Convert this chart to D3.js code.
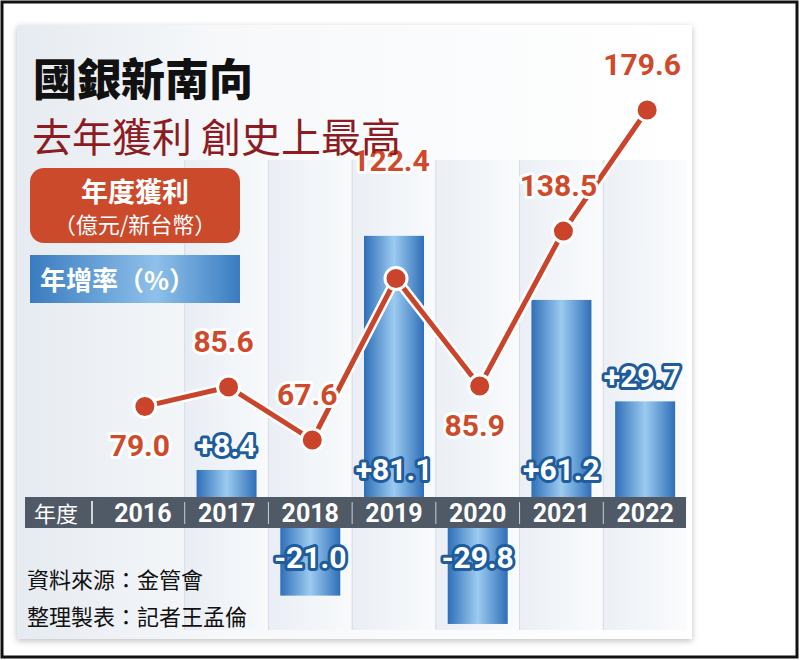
<!DOCTYPE html>
<html><head><meta charset="utf-8">
<script src="https://cdn.jsdelivr.net/npm/d3@7"></script>
<style>body{margin:0;background:#fff}svg{display:block}</style></head>
<body><svg id="c" width="800" height="660"></svg>
<script>
const years=["2016","2017","2018","2019","2020","2021","2022"];
const profit=[79.0,85.6,67.6,122.4,85.9,138.5,179.6];
const growth=[null,8.4,-21.0,81.1,-29.8,61.2,29.7];
const profitLabelPos=["below","above","above","above","below","above","above"];
const profitLabels=["79.0","85.6","67.6","122.4","85.9","138.5","179.6"];
const growthLabels=["","+8.4","-21.0","+81.1","-29.8","+61.2","+29.7"];

const svg=d3.select("#c");
const defs=svg.append("defs");
const bg=defs.append("linearGradient").attr("id","bar").attr("x1",0).attr("x2",1);
bg.append("stop").attr("offset",0).attr("stop-color","#2f6fb8");
bg.append("stop").attr("offset",0.5).attr("stop-color","#9ccbf0");
bg.append("stop").attr("offset",1).attr("stop-color","#2f6fb8");
const pg=defs.append("linearGradient").attr("id","panel").attr("x1",0).attr("x2",1);
pg.append("stop").attr("offset",0).attr("stop-color","#e6ebf1");
pg.append("stop").attr("offset",0.3).attr("stop-color","#f6f8fa");
pg.append("stop").attr("offset",1).attr("stop-color","#ffffff");
const cg=defs.append("linearGradient").attr("id","col").attr("x1",0).attr("x2",1);
cg.append("stop").attr("offset",0).attr("stop-color","#e4eaf2");
cg.append("stop").attr("offset",1).attr("stop-color","#f8fafc");
const lg=defs.append("linearGradient").attr("id","leg").attr("x1",0).attr("x2",1);
lg.append("stop").attr("offset",0).attr("stop-color","#3a7cc0");
lg.append("stop").attr("offset",0.6).attr("stop-color","#8ec0ea");
lg.append("stop").attr("offset",1).attr("stop-color","#3a7cc0");
const sh=defs.append("filter").attr("id","sh").attr("x","-5%").attr("y","-5%").attr("width","110%").attr("height","110%");
sh.append("feDropShadow").attr("dx",0).attr("dy",2).attr("stdDeviation",3).attr("flood-color","#000").attr("flood-opacity",0.25);

svg.append("rect").attr("x",2).attr("y",2).attr("width",795).attr("height",655).attr("fill","#fff").attr("stroke","#111").attr("stroke-width",3);
svg.append("rect").attr("x",17).attr("y",25).attr("width",675).attr("height",614).attr("fill","url(#panel)").attr("filter","url(#sh)");

const x=d3.scaleBand().domain(years).range([101,687]).paddingInner(0);
const bw=60;
const ky=3.22, top0=497, bot0=528;
const gPos=d3.scaleLinear().domain([0,100]).range([top0,top0-100*ky]);
const gNeg=d3.scaleLinear().domain([0,-100]).range([bot0,bot0+100*ky]);
const yP=d3.scaleLinear().domain([67.6,179.6]).range([440,110]);
const cx=d=>x(d)+x.bandwidth()/2;

svg.selectAll(".col").data(years.slice(1)).enter().append("rect")
 .attr("x",d=>x(d)).attr("y",160).attr("width",x.bandwidth()).attr("height",470)
 .attr("fill","url(#col)").attr("opacity",0.7);
svg.selectAll(".sep").data(years.slice(1)).enter().append("line")
 .attr("x1",d=>x(d)).attr("x2",d=>x(d)).attr("y1",160).attr("y2",630).attr("stroke","#d5dbe3");

years.forEach((yr,i)=>{const v=growth[i]; if(v==null)return;
  const y0=v>=0?gPos(v):bot0, h=v>=0?top0-gPos(v):gNeg(v)-bot0;
  svg.append("rect").attr("x",cx(yr)-bw/2).attr("y",y0).attr("width",bw).attr("height",h).attr("fill","url(#bar)");
});

svg.append("rect").attr("x",25).attr("y",top0).attr("width",661).attr("height",bot0-top0).attr("fill","#4f5a66");
svg.append("text").attr("x",34).attr("y",522).text("年度").attr("fill","#fff").attr("font-family","Noto Sans CJK TC").attr("font-size",22);
svg.append("line").attr("x1",92).attr("x2",92).attr("y1",501).attr("y2",524).attr("stroke","#fff").attr("stroke-width",1.5);
svg.selectAll(".yr").data(years).enter().append("text").attr("x",d=>cx(d)).attr("y",522)
 .attr("text-anchor","middle").attr("fill","#fff").attr("font-family","Liberation Sans Narrow, Roboto, sans-serif").attr("font-weight","bold").attr("font-size",25).text(d=>d);
svg.selectAll(".ys").data(years.slice(1)).enter().append("line").attr("x1",d=>x(d)).attr("x2",d=>x(d)).attr("y1",502).attr("y2",524).attr("stroke","#c9ced4");

const pts=years.map((d,i)=>[cx(d)+2,yP(profit[i])]);
svg.append("path").attr("d",d3.line()(pts)).attr("fill","none").attr("stroke","#fff").attr("stroke-width",10).attr("stroke-linejoin","round");
svg.append("path").attr("d",d3.line()(pts)).attr("fill","none").attr("stroke","#c9442a").attr("stroke-width",5).attr("stroke-linejoin","round");
svg.selectAll(".pt").data(pts).enter().append("circle").attr("cx",d=>d[0]).attr("cy",d=>d[1]).attr("r",11).attr("fill","#c9442a").attr("stroke","#fff").attr("stroke-width",3);

const numFont="Liberation Sans Narrow, Roboto, sans-serif";
years.forEach((yr,i)=>{
  let dy=profitLabelPos[i]=="below"?50:-35; if(i==3)dy=-108;
  svg.append("text").attr("x",cx(yr)-3).attr("y",yP(profit[i])+dy).attr("text-anchor","middle")
   .attr("font-family",numFont).attr("font-weight","bold").attr("font-size",30)
   .attr("fill","#cf4a2b").attr("stroke","#fff").attr("stroke-width",6).attr("paint-order","stroke").attr("stroke-linejoin","round").text(profitLabels[i]);
});
years.forEach((yr,i)=>{const v=growth[i]; if(v==null)return;
  let y;
  if(i==1) y=456; else if(i==6) y=gPos(v)-14; else if(v<0) y=568; else y=480;
  svg.append("text").attr("x",cx(yr)+(i==6?-3:0)).attr("y",y).attr("text-anchor","middle")
   .attr("font-family",numFont).attr("font-weight","bold").attr("font-size",30)
   .attr("fill","#fff").attr("stroke","#1f5c9c").attr("stroke-width",6).attr("paint-order","stroke").attr("stroke-linejoin","round").text(growthLabels[i]);
});

svg.append("text").attr("x",33).attr("y",96).text("國銀新南向").attr("font-family","Noto Sans CJK TC").attr("font-weight","900").attr("font-size",44).attr("fill","#111");
svg.append("text").attr("x",32).attr("y",152).text("去年獲利 創史上最高").attr("font-family","Noto Sans CJK TC").attr("font-size",40).attr("fill","#8c1c22");
svg.append("rect").attr("x",30).attr("y",168).attr("width",210).attr("height",75).attr("rx",14).attr("fill","#cc4a2c");
svg.append("text").attr("x",135).attr("y",202).attr("text-anchor","middle").text("年度獲利").attr("font-family","Noto Sans CJK TC").attr("font-weight","bold").attr("font-size",27).attr("fill","#fff");
svg.append("text").attr("x",135).attr("y",233).attr("text-anchor","middle").text("（億元/新台幣）").attr("font-family","Noto Sans CJK TC").attr("font-size",22).attr("fill","#fff");
svg.append("rect").attr("x",30).attr("y",255).attr("width",210).attr("height",48).attr("fill","url(#leg)");
svg.append("text").attr("x",40).attr("y",290).text("年增率（%）").attr("font-family","Noto Sans CJK TC").attr("font-weight","bold").attr("font-size",26).attr("fill","#fff");
svg.append("text").attr("x",27).attr("y",588).text("資料來源：金管會").attr("font-family","Noto Sans CJK TC").attr("font-size",22).attr("fill","#111");
svg.append("text").attr("x",27).attr("y",625).text("整理製表：記者王孟倫").attr("font-family","Noto Sans CJK TC").attr("font-size",22).attr("fill","#111");
</script></body></html>
